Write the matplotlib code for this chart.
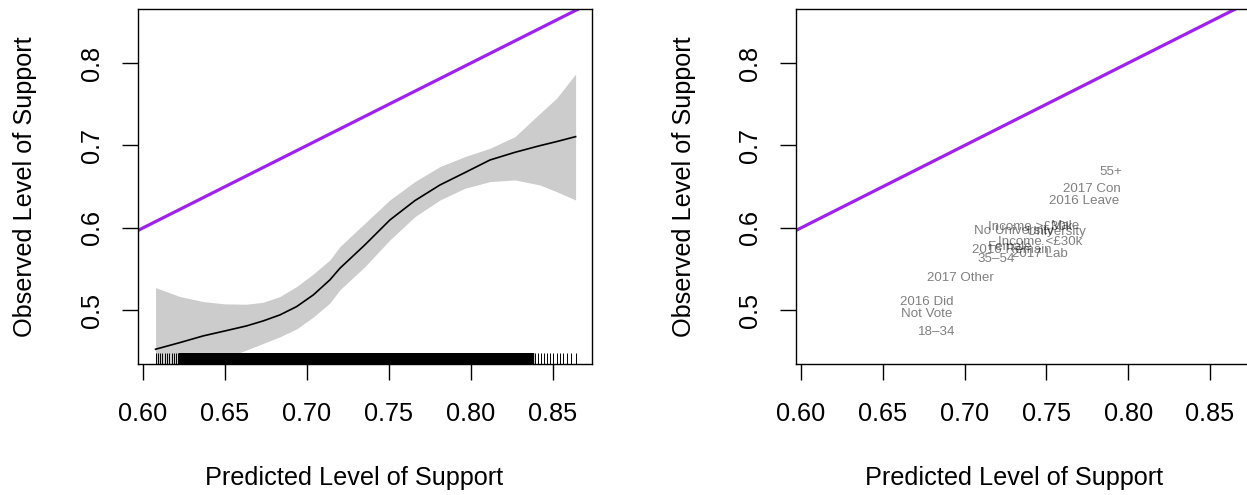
import numpy as np
import matplotlib
matplotlib.use("Agg")
import matplotlib.pyplot as plt

plt.rcParams['font.family'] = ['Liberation Sans', 'DejaVu Sans']

# smooth fit of observed vs predicted support
pred_x = [0.6077, 0.6226, 0.6368, 0.6500, 0.6632, 0.6734, 0.6835, 0.6937,
          0.7039, 0.7140, 0.7201, 0.7353, 0.7506, 0.7658, 0.7811, 0.7963,
          0.8116, 0.8268, 0.8421, 0.8522, 0.8638]
fit_y = [0.4529, 0.4610, 0.4691, 0.4751, 0.4812, 0.4873, 0.4945, 0.5046,
         0.5188, 0.5370, 0.5511, 0.5794, 0.6097, 0.6331, 0.6521, 0.6671,
         0.6824, 0.6917, 0.6998, 0.7047, 0.7107]
upper_y = [0.5276, 0.5168, 0.5107, 0.5079, 0.5075, 0.5099, 0.5168, 0.5289,
           0.5442, 0.5612, 0.5774, 0.6057, 0.6340, 0.6562, 0.6744, 0.6865,
           0.6966, 0.7107, 0.7390, 0.7572, 0.7867]
lower_y = [0.378, 0.405, 0.428, 0.442, 0.452, 0.460, 0.468, 0.4775,
           0.492, 0.509, 0.525, 0.553, 0.5855, 0.6137, 0.6339, 0.6481,
           0.6562, 0.6582, 0.6521, 0.6440, 0.6339]

# rug of predicted values: sparse tails and the dense middle
rug_sparse = [0.6077, 0.6089, 0.6104, 0.6118, 0.6132, 0.6148, 0.616, 0.6175,
              0.6187, 0.6201, 0.6213, 0.839, 0.841, 0.843, 0.8447, 0.8461,
              0.8482, 0.8502, 0.8522, 0.8543, 0.8563, 0.8583, 0.861, 0.8638]
rug_dense = [0.623, 0.625, 0.627, 0.629, 0.631, 0.633, 0.635, 0.637, 0.639,
             0.641, 0.643, 0.645, 0.647, 0.649, 0.651, 0.653, 0.655, 0.657,
             0.659, 0.661, 0.663, 0.665, 0.667, 0.669, 0.671, 0.673, 0.675,
             0.677, 0.679, 0.681, 0.683, 0.685, 0.687, 0.689, 0.691, 0.693,
             0.695, 0.697, 0.699, 0.701, 0.703, 0.705, 0.707, 0.709, 0.711,
             0.713, 0.715, 0.717, 0.719, 0.721, 0.723, 0.725, 0.727, 0.729,
             0.731, 0.733, 0.735, 0.737, 0.739, 0.741, 0.743, 0.745, 0.747,
             0.749, 0.751, 0.753, 0.755, 0.757, 0.759, 0.761, 0.763, 0.765,
             0.767, 0.769, 0.771, 0.773, 0.775, 0.777, 0.779, 0.781, 0.783,
             0.785, 0.787, 0.789, 0.791, 0.793, 0.795, 0.797, 0.799, 0.801,
             0.803, 0.805, 0.807, 0.809, 0.811, 0.813, 0.815, 0.817, 0.819,
             0.821, 0.823, 0.825, 0.827, 0.829, 0.831, 0.833, 0.835, 0.837]

# group labels for the right panel
groups = ["55+", "2017 Con", "2016 Leave", "Male", "Income >£30k",
          "No University", "University", "Income <£30k", "Female",
          "2016 Remain", "2017 Lab", "35\u201354", "2017 Other",
          "2016 Did\nNot Vote", "18\u201334"]
group_pred = [0.7895, 0.778, 0.7732, 0.7616, 0.7402, 0.7299, 0.7561, 0.7463,
              0.728, 0.7287, 0.7463, 0.7195, 0.6976, 0.6768, 0.683]
group_obs = [0.6682, 0.6473, 0.6331, 0.6024, 0.6012, 0.5964, 0.5952, 0.583,
             0.577, 0.5733, 0.5685, 0.5624, 0.5394, 0.503, 0.4743]

xlim = (0.597, 0.8738)
ylim = (0.435, 0.8655)
W, H = 1247, 495
fs = 18.2

fig = plt.figure(figsize=(W / 100, H / 100), dpi=100)
ax1 = fig.add_axes([138 / W, 1 - 364 / H, 454 / W, 355 / H])
ax2 = fig.add_axes([796 / W, 1 - 364 / H, 453 / W, 355 / H])

ax1.fill_between(pred_x, lower_y, upper_y, color="#cccccc", lw=0)
ax1.plot(pred_x, fit_y, color="black", lw=1.2)
rug_tr = ax1.get_xaxis_transform()
ax1.vlines(rug_dense, 0, 0.032, transform=rug_tr, color="black", lw=3.2)
ax1.vlines(rug_sparse, 0, 0.032, transform=rug_tr, color="black", lw=0.7)

for i in range(len(groups)):
    ax2.text(group_pred[i], group_obs[i], groups[i], color=(0, 0, 0, 0.5),
             fontsize=9.6, ha="center", va="center", linespacing=1.0)

for ax in (ax1, ax2):
    ax.plot(xlim, xlim, color="#a020f0", lw=2.3, solid_capstyle="butt")
    ax.set_xlim(xlim)
    ax.set_ylim(ylim)
    ax.set_xticks([0.60, 0.65, 0.70, 0.75, 0.80, 0.85])
    ax.set_xticklabels(["0.60", "0.65", "0.70", "0.75", "0.80", "0.85"])
    ax.set_yticks([0.5, 0.6, 0.7, 0.8])
    ax.set_yticklabels(["0.5", "0.6", "0.7", "0.8"], rotation=90, va="center")
    ax.tick_params(axis="both", length=11.5, width=1.0, labelsize=fs)
    ax.tick_params(axis="x", pad=16)
    ax.tick_params(axis="y", pad=13)
    for s in ax.spines.values():
        s.set_linewidth(1.0)

fig.text(354 / W, 1 - 478 / H, "Predicted Level of Support", fontsize=fs,
         ha="center", va="center")
fig.text(1014 / W, 1 - 478 / H, "Predicted Level of Support", fontsize=fs,
         ha="center", va="center")
fig.text(25 / W, 1 - 187 / H, "Observed Level of Support", fontsize=fs,
         ha="center", va="center", rotation=90)
fig.text(684 / W, 1 - 187 / H, "Observed Level of Support", fontsize=fs,
         ha="center", va="center", rotation=90)

fig.savefig("out.png", dpi=100)
